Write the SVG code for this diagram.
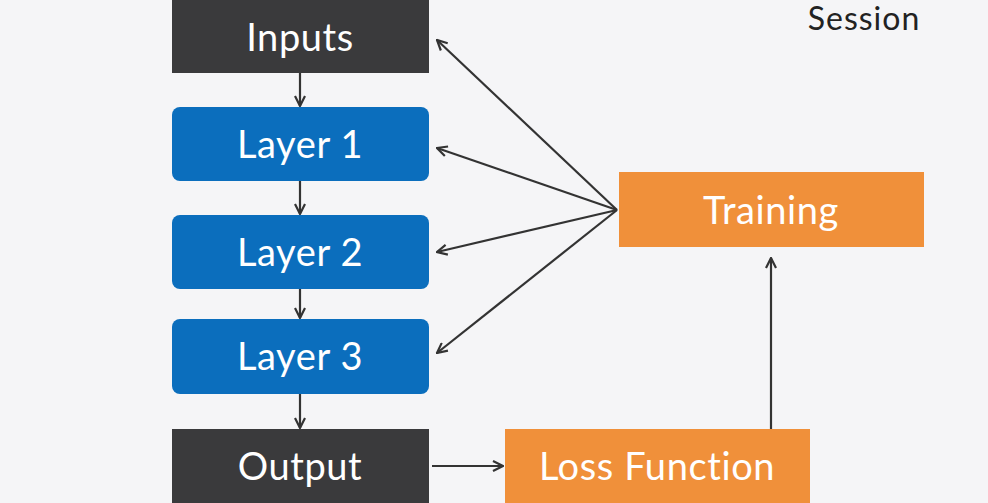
<svg xmlns="http://www.w3.org/2000/svg" width="988" height="503" viewBox="0 0 988 503">
  <style>
    .lbl { font-family: Lato, "Noto Sans", sans-serif; font-size: 38px; letter-spacing: 0.6px; fill: #ffffff; text-anchor: middle; dominant-baseline: central; }
    .dark { fill: #3a3a3c; }
    .blue { fill: #0b6ebd; }
    .orange { fill: #f0903a; }
    .edge { stroke: #333333; stroke-width: 2.2; fill: none; marker-end: url(#arrow); }
  </style>
  <defs>
    <marker id="arrow" viewBox="0 0 12 12" refX="11" refY="6" markerWidth="12" markerHeight="12" markerUnits="userSpaceOnUse" orient="auto">
      <path d="M1,1 L11,6 L1,11" fill="none" stroke="#333333" stroke-width="2.2" stroke-linejoin="miter"/>
    </marker>
  </defs>
  <rect width="988" height="503" fill="#f5f5f7"/>

  <text x="864" y="30" font-family="Lato, 'Noto Sans', sans-serif" font-size="32" letter-spacing="1" fill="#222222" text-anchor="middle">Session</text>

  <g id="connectors">
    <line class="edge" x1="300" y1="73" x2="300" y2="106"/>
    <line class="edge" x1="300" y1="181" x2="300" y2="214"/>
    <line class="edge" x1="300" y1="289" x2="300" y2="318"/>
    <line class="edge" x1="300" y1="393" x2="300" y2="428"/>
    <line class="edge" x1="617" y1="210" x2="437" y2="40"/>
    <line class="edge" x1="617" y1="210" x2="437" y2="148"/>
    <line class="edge" x1="617" y1="210" x2="437" y2="252"/>
    <line class="edge" x1="617" y1="210" x2="437" y2="353"/>
    <line class="edge" x1="432" y1="466" x2="503" y2="466"/>
    <line class="edge" x1="771" y1="429" x2="771" y2="258"/>
  </g>

  <g id="inputs">
    <rect class="dark" x="172" y="-10" width="257" height="83"/>
    <text class="lbl" x="300" y="36">Inputs</text>
  </g>
  <g id="layer1">
    <rect class="blue" x="172" y="107" width="257" height="74" rx="8"/>
    <text class="lbl" x="300" y="143">Layer 1</text>
  </g>
  <g id="layer2">
    <rect class="blue" x="172" y="215" width="257" height="74" rx="8"/>
    <text class="lbl" x="300" y="251">Layer 2</text>
  </g>
  <g id="layer3">
    <rect class="blue" x="172" y="319" width="257" height="75" rx="8"/>
    <text class="lbl" x="300" y="355">Layer 3</text>
  </g>
  <g id="output">
    <rect class="dark" x="172" y="429" width="257" height="84"/>
    <text class="lbl" x="300" y="465">Output</text>
  </g>
  <g id="training">
    <rect class="orange" x="619" y="172" width="305" height="75"/>
    <text class="lbl" x="771" y="209">Training</text>
  </g>
  <g id="loss">
    <rect class="orange" x="505" y="429" width="305" height="84"/>
    <text class="lbl" x="657" y="465">Loss Function</text>
  </g>
</svg>
